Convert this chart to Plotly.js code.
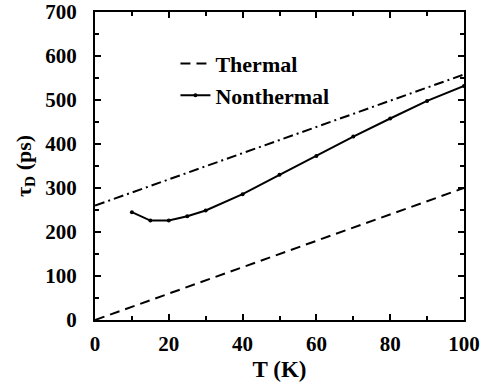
<!DOCTYPE html>
<html>
<head>
<meta charset="utf-8">
<script src="https://cdn.plot.ly/plotly-3.0.1.min.js"></script>
<style>
html,body{margin:0;padding:0;background:#fff;}
#chart{width:487px;height:391px;}
#chart .xtick text, #chart .ytick text { font-weight: 700 !important; }
</style>
</head>
<body>
<div id="chart"></div>
<script>
// Data
const tempNonthermal = [10, 15, 20, 25, 30, 40, 50, 60, 70, 80, 90, 100];
const tauNonthermal  = [245, 226, 226, 236, 249, 286, 330, 373, 417, 458, 498, 532];
const tempThermal = [0, 100];
const tauThermal  = [0, 300];
const tempUpper = [0, 100];
const tauUpper  = [260, 558];

const xTickVals = [0, 20, 40, 60, 80, 100];
const xTickText = ['0', '20', '40', '60', '80', '100'];
const yTickVals = [0, 100, 200, 300, 400, 500, 600, 700];
const yTickText = ['0', '100', '200', '300', '400', '500', '600', '700'];

const FONT = 'Liberation Serif, Times New Roman, serif';
const bold = s => '<b>' + s + '</b>';

const traces = [
  {
    x: tempThermal, y: tauThermal, mode: 'lines', name: bold('Thermal'),
    line: {color: '#000', width: 2, dash: '10px,6px'}
  },
  {
    x: tempNonthermal, y: tauNonthermal, mode: 'lines+markers', name: bold('Nonthermal'),
    line: {color: '#000', width: 2},
    marker: {color: '#000', size: 4}
  },
  {
    x: tempUpper, y: tauUpper, mode: 'lines', name: 'upper', showlegend: false,
    line: {color: '#000', width: 2, dash: '10px,4px,2px,4px'}
  }
];

const axisCommon = {
  showline: true, linecolor: '#000', linewidth: 2, mirror: 'allticks',
  ticks: 'inside', ticklen: 6, tickwidth: 2, tickcolor: '#000',
  showgrid: false, zeroline: false,
  tickfont: {family: FONT, size: 21, color: '#000', weight: 'bold'}
};

const layout = {
  width: 487, height: 391,
  margin: {l: 95, r: 23, t: 12, b: 71},
  paper_bgcolor: '#fff', plot_bgcolor: '#fff',
  showlegend: true,
  legend: {
    x: 0.218, y: 0.9, xanchor: 'left', yanchor: 'top',
    bgcolor: 'rgba(0,0,0,0)',
    font: {family: FONT, size: 22, color: '#000'},
    tracegroupgap: 0
  },
  xaxis: Object.assign({}, axisCommon, {
    range: [0, 100], tickvals: xTickVals, ticktext: xTickText.map(bold),
    ticklabelstandoff: 4,
    minor: {dtick: 10, ticks: 'inside', ticklen: 4, tickwidth: 2, tickcolor: '#000'},
    title: {text: bold('T (K)'), font: {family: FONT, size: 23, color: '#000'}, standoff: 6}
  }),
  yaxis: Object.assign({}, axisCommon, {
    range: [0, 700], tickvals: yTickVals, ticktext: yTickText.map(bold),
    ticklabelstandoff: 12,
    minor: {dtick: 50, ticks: 'inside', ticklen: 4, tickwidth: 2, tickcolor: '#000'},
    title: {text: bold('τ<sub>D</sub> (ps)'), font: {family: FONT, size: 22, color: '#000'}, standoff: 8}
  })
};

Plotly.newPlot('chart', traces, layout, {staticPlot: true, displayModeBar: false});
</script>
</body>
</html>
